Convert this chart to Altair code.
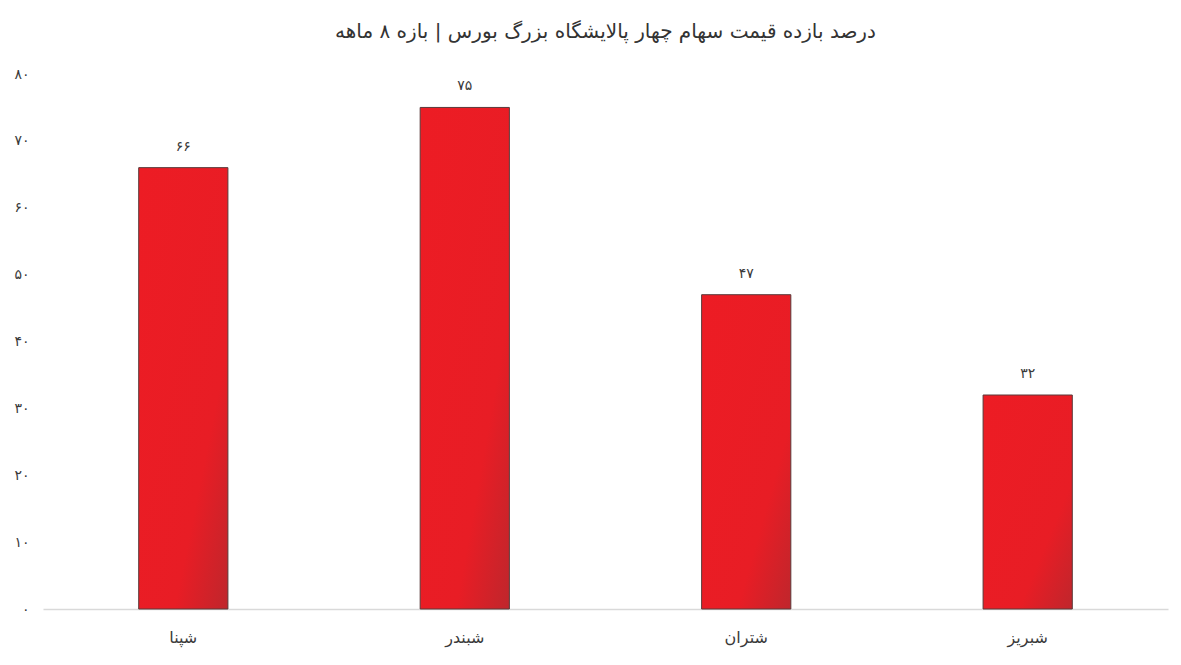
import altair as alt
import pandas as pd

categories = ["شپنا", "شبندر", "شتران", "شبریز"]
values = [66, 75, 47, 32]
title_text = "درصد بازده قیمت سهام چهار پالایشگاه بزرگ بورس | بازه ۸ ماهه"

PERSIAN = str.maketrans("0123456789", "۰۱۲۳۴۵۶۷۸۹")
labels = [str(v).translate(PERSIAN) for v in values]

df = pd.DataFrame({"cat": categories, "val": values, "lab": labels})

FONT = "DejaVu Sans"
TXT = "#3a3a3a"

y_label_expr = "datum.label"
for d, p in zip("0123456789", "۰۱۲۳۴۵۶۷۸۹"):
    y_label_expr = f"replace({y_label_expr}, regexp('{d}', 'g'), '{p}')"

x = alt.X("cat:N", sort=categories, title=None,
          scale=alt.Scale(paddingInner=0.683, paddingOuter=0.34),
          axis=alt.Axis(labelAngle=0, labelFont=FONT, labelFontSize=16, labelColor=TXT,
                        labelPadding=20, ticks=False, domainColor="#d9d9d9", domainWidth=1.5))
y = alt.Y("val:Q", title=None,
          scale=alt.Scale(domain=[0, 80], nice=False),
          axis=alt.Axis(values=list(range(0, 81, 10)), labelExpr=y_label_expr, grid=False,
                        domain=False, ticks=False, labelFont=FONT, labelFontSize=14,
                        labelColor=TXT, labelPadding=14))

grad = alt.Gradient(
    gradient="linear", x1=0, y1=0, x2=1, y2=1,
    stops=[alt.GradientStop(offset=0, color="#ED1C24"),
           alt.GradientStop(offset=0.7, color="#E81D25"),
           alt.GradientStop(offset=1, color="#BF262C")])

bars = alt.Chart(df).mark_bar(color=grad, stroke="#5a3a3a", strokeWidth=1).encode(x=x, y=y)
text = alt.Chart(df).mark_text(dy=-21, font=FONT, fontSize=14, color=TXT, baseline="middle").encode(
    x=alt.X("cat:N", sort=categories), y="val:Q", text="lab:N")

chart = (bars + text).properties(
    width=1125, height=535,
    title=alt.TitleParams(title_text, font=FONT, fontSize=20, fontWeight="normal", color="#333333",
                          anchor="middle", offset=25),
    autosize=alt.AutoSizeParams(type="none"),
    padding={"left": 35, "top": 66, "right": 5, "bottom": 50},
).configure_view(stroke=None)

chart.save("out.html", embed_options={"renderer": "svg", "actions": False})
